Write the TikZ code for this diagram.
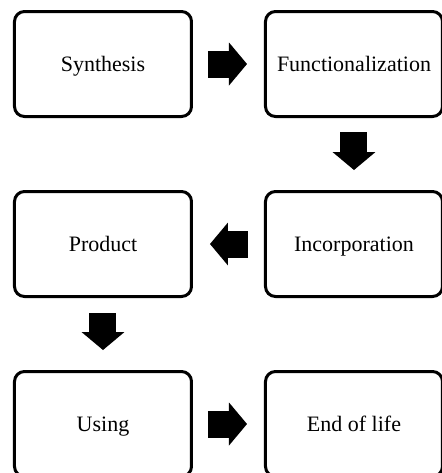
\documentclass[tikz,border=0pt]{standalone}
\usepackage{fontspec}
\setmainfont{Liberation Serif}
\usetikzlibrary{arrows.meta}
\tikzstyle{stage}=[rectangle, rounded corners=5pt, minimum width=88.5pt, minimum height=52.5pt, text centered, text height=7.5pt, text depth=0pt, draw=black, line width=1.5pt, font=\fontsize{11}{13}\selectfont]
\tikzstyle{blockarrow}=[line width=13.5pt, -{Triangle[width=21.5pt,length=9pt,line width=0pt]}]

\begin{document}
\begin{tikzpicture}[x=0.5pt, y=-0.5pt, node distance=90pt]
	\useasboundingbox (0,0) rectangle (442,473);
	\clip (0,0) rectangle (442,473);
	\node (syn) [stage] at (103,64) {Synthesis};
	\node (fun) [stage, right of=syn, xshift=35.5pt] {Functionalization};
	\node (inc) [stage, below of=fun] {Incorporation};
	\node (prod) [stage, below of=syn] {Product};
	\node (use) [stage, below of=prod] {Using};
	\node (end) [stage, below of=inc] {End of life};
	\draw [blockarrow, shorten <=7.5pt, shorten >=8.5pt] (syn.east)--(fun.west);
	\draw [blockarrow, shorten <=7pt, shorten >=10pt] (fun.south)--(inc.north);
	\draw [blockarrow, shorten <=8pt, shorten >=8.5pt] (inc.west)--(prod.east);
	\draw [blockarrow, shorten <=7.5pt, shorten >=10pt] (prod.south)--(use.north);
	\draw [blockarrow, shorten <=7.5pt, shorten >=8.5pt] (use.east)--(end.west);
\end{tikzpicture}
\end{document}
